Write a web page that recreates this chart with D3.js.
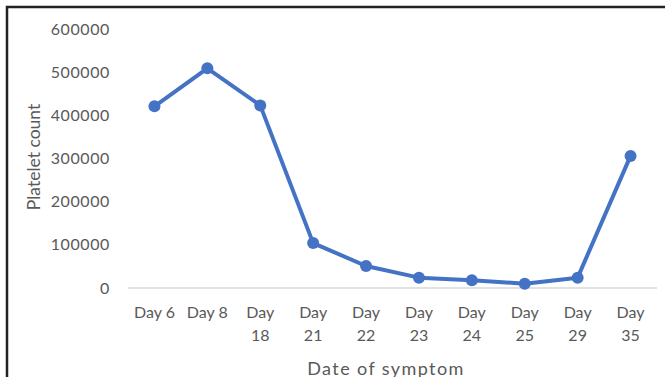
<!DOCTYPE html>
<html><head><meta charset="utf-8">
<script src="https://cdn.jsdelivr.net/npm/d3@7"></script>
<style>body{margin:0;background:#fff;}svg{display:block;}</style>
</head><body>
<svg id="c" width="665" height="377"></svg>
<script>
const categories = [["Day 6"],["Day 8"],["Day","18"],["Day","21"],["Day","22"],["Day","23"],["Day","24"],["Day","25"],["Day","29"],["Day","35"]];
const values = [421000, 509000, 423000, 104000, 51000, 24000, 18000, 10000, 24000, 306000];
const yTicks = [0, 100000, 200000, 300000, 400000, 500000, 600000];

const svg = d3.select("#c");
const font = "Lato, 'Open Sans', sans-serif";
const textColor = "#595959";

svg.append("rect").attr("x", 7).attr("y", 7).attr("width", 700).attr("height", 400)
  .attr("fill", "none").attr("stroke", "#222").attr("stroke-width", 2.5);

const labels = categories.map(c => c.join(" "));
const x = d3.scaleBand().domain(labels).range([128, 657]);
const y = d3.scaleLinear().domain([0, 600000]).range([288, 29]);

svg.append("line").attr("x1", 128).attr("x2", 657).attr("y1", y(0)).attr("y2", y(0))
  .attr("stroke", "#d9d9d9").attr("stroke-width", 1.5);

const yAxis = d3.axisLeft(y).tickValues(yTicks).tickFormat(d => String(d)).tickSize(0).tickPadding(0);
const gy = svg.append("g").attr("transform", "translate(110,0)").call(yAxis);
gy.select(".domain").remove();
gy.selectAll("text").attr("font-family", font).attr("font-size", 16).attr("fill", textColor).attr("letter-spacing", "0.6px");

const gx = svg.append("g");
categories.forEach((c, i) => {
  const t = gx.append("text").attr("x", x(labels[i]) + x.bandwidth()/2).attr("y", 318)
    .attr("text-anchor", "middle").attr("font-family", font).attr("font-size", 16).attr("fill", textColor);
  c.forEach((s, j) => t.append("tspan").attr("x", x(labels[i]) + x.bandwidth()/2).attr("dy", j === 0 ? 0 : 23).text(s));
});

const line = d3.line().x((d, i) => x(labels[i]) + x.bandwidth()/2).y(d => y(d));
svg.append("path").datum(values).attr("d", line).attr("fill", "none")
  .attr("stroke", "#4472C4").attr("stroke-width", 4).attr("stroke-linejoin", "round");
svg.selectAll("circle.pt").data(values).enter().append("circle")
  .attr("cx", (d, i) => x(labels[i]) + x.bandwidth()/2).attr("cy", d => y(d)).attr("r", 6)
  .attr("fill", "#4472C4");

svg.append("text").attr("transform", "translate(40,157) rotate(-90)").attr("text-anchor", "middle")
  .attr("font-family", font).attr("font-size", 17.5).attr("fill", textColor).text("Platelet count");
svg.append("text").attr("x", 386).attr("y", 375).attr("text-anchor", "middle")
  .attr("font-family", font).attr("font-size", 18).attr("letter-spacing", "1.4px").attr("fill", textColor).text("Date of symptom");
</script>
</body></html>
